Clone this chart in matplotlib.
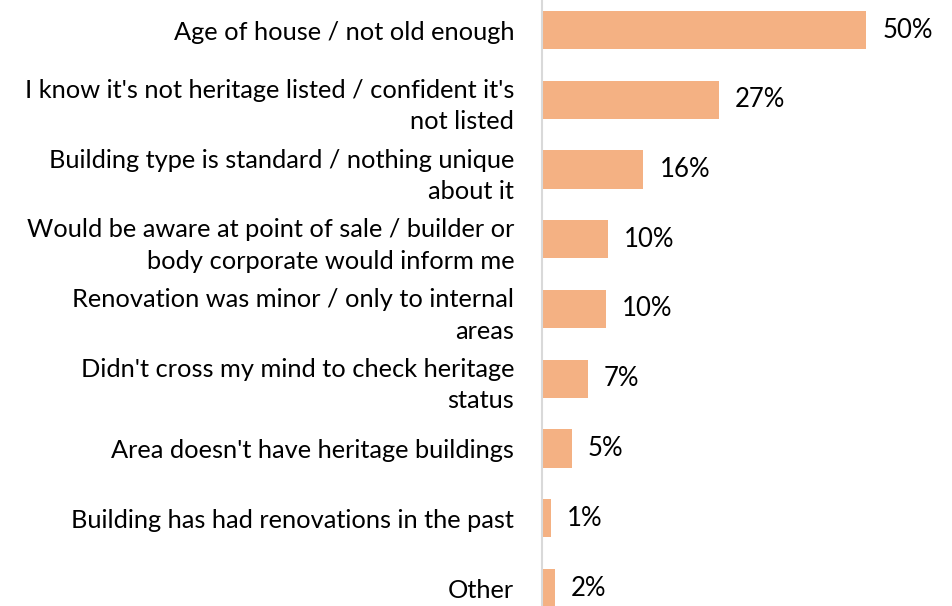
import matplotlib
matplotlib.use("Agg")
import matplotlib.pyplot as plt

categories = [
    "Age of house / not old enough",
    "I know it's not heritage listed / confident it's\nnot listed",
    "Building type is standard / nothing unique\nabout it",
    "Would be aware at point of sale / builder or\nbody corporate would inform me",
    "Renovation was minor / only to internal\nareas",
    "Didn't cross my mind to check heritage\nstatus",
    "Area doesn't have heritage buildings",
    "Building has had renovations in the past",
    "Other",
]
values = [49.9, 27.2, 15.6, 10.1, 9.9, 7.0, 4.6, 1.4, 2.0]
value_labels = ["50%", "27%", "16%", "10%", "10%", "7%", "5%", "1%", "2%"]

plt.rcParams['font.family'] = ['Lato', 'DejaVu Sans']

fig = plt.figure(figsize=(9.53, 6.06), dpi=100)
ax = fig.add_axes([542/953, 0, 1 - 542/953, 1])

ypos = list(range(len(categories)))
ax.barh(ypos, values, height=0.545, color="#F4B183")
ax.set_xlim(0, 411/6.5)
ax.set_ylim(8 + 18/69.75, -30/69.75)

for y, v, lab in zip(ypos, values, value_labels):
    ax.annotate(lab, (v, y), xytext=(11.5, 0), textcoords="offset points",
                va="center", ha="left", fontsize=18.5, color="#000000")

ax.set_yticks(ypos)
ax.set_yticklabels(categories, fontsize=18.3, linespacing=1.45)
ax.tick_params(axis="y", length=0, pad=20)
ax.set_xticks([])
for s in ["top", "right", "bottom"]:
    ax.spines[s].set_visible(False)
ax.spines["left"].set_color("#D9D9D9")
ax.spines["left"].set_linewidth(1.5)

fig.savefig("out.png", dpi=100)
